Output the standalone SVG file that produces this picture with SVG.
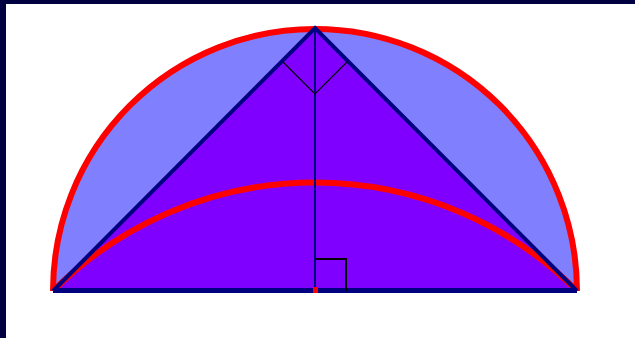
<svg xmlns="http://www.w3.org/2000/svg" width="635" height="338" viewBox="0 0 635 338">
<style>
.edge{stroke:#000080;fill:none;stroke-linecap:butt}
.red{stroke:#FF0000;fill:none}
.mark{stroke:#000000;fill:none}
</style>
<rect x="0" y="0" width="635" height="338" fill="#FFFFFF"/>
<rect x="0" y="0" width="635" height="4" fill="#000040"/>
<rect x="0" y="0" width="6" height="338" fill="#000040"/>
<g id="semicircle">
<path d="M53,291 A262,262 0 0 1 577,291 Z" fill="#8080FF"/>
</g>
<g id="triangle">
<path d="M53,291 L315,29 L577,291 Z" fill="#8000FF"/>
<path d="M53,291 A370.5,370.5 0 0 1 577,291 Z" fill="#8000FF"/>
</g>
<g id="connectors">
<path class="red" stroke-width="6" d="M53,291 A262,262 0 0 1 577,291"/>
<path class="red" stroke-width="6" d="M53,291 A370.5,370.5 0 0 1 577,291"/>
<path class="edge" stroke-width="4" d="M53,291 L315,28 L577,291"/>
<line class="edge" stroke-width="5" x1="53" y1="290.5" x2="577" y2="290.5"/>
<line class="edge" stroke-width="2" x1="315" y1="27" x2="315" y2="291"/>
<path class="mark" stroke-width="1.2" d="M283,62 L315,94 L347,62"/>
<path class="mark" stroke-width="2" d="M315,259 L346,259 L346,291"/>
<rect x="313" y="287" width="5" height="6" fill="#FF0000"/>
</g>
</svg>
